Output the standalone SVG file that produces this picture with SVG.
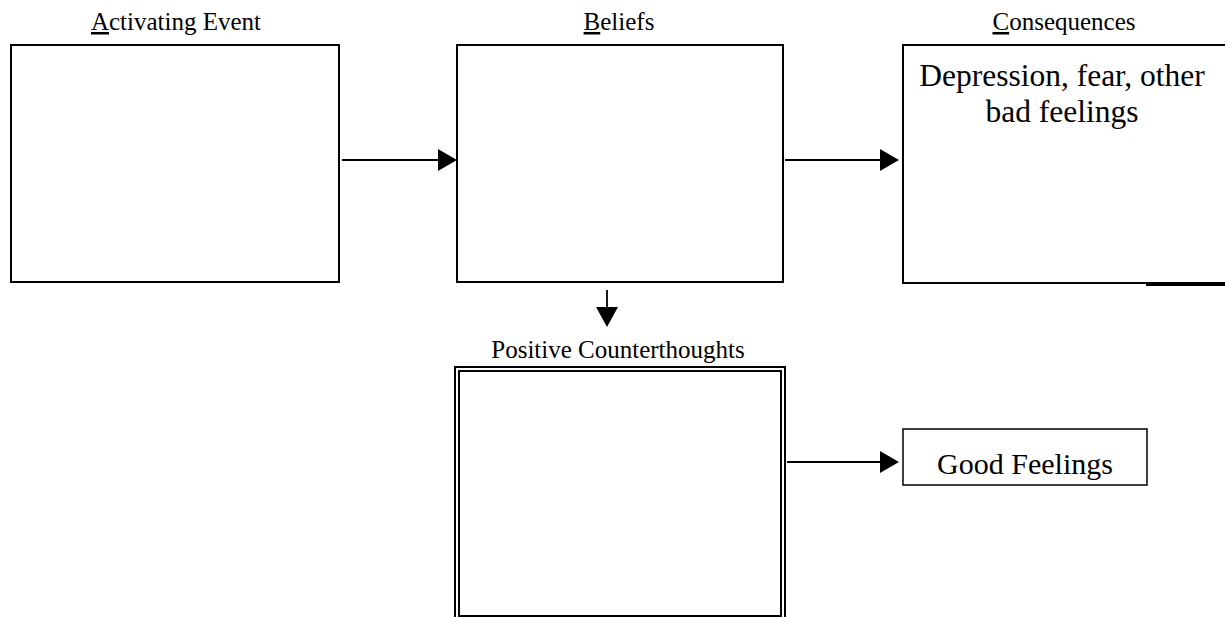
<svg xmlns="http://www.w3.org/2000/svg" width="1225" height="617" viewBox="0 0 1225 617">
  <style>
    .box { fill: #fff; stroke: #000; stroke-width: 2; }
    .thin { fill: #fff; stroke: #000; stroke-width: 1.5; }
    .lbl { font-family: "Liberation Serif", "Times New Roman", serif; font-size: 25px; fill: #000; text-anchor: middle; }
    .big { font-family: "Liberation Serif", "Times New Roman", serif; font-size: 31.5px; fill: #000; text-anchor: middle; }
    .mid { font-family: "Liberation Serif", "Times New Roman", serif; font-size: 30px; fill: #000; text-anchor: middle; }
    .conn { stroke: #000; stroke-width: 1.8; fill: none; }
    .head { fill: #000; }
  </style>
  <rect width="1225" height="617" fill="#fff"/>

  <!-- A: activating event -->
  <g id="node-activating">
    <text class="lbl" x="176" y="30"><tspan text-decoration="underline">A</tspan>ctivating Event</text>
    <rect class="box" x="11" y="45" width="328" height="237"/>
  </g>

  <!-- B: beliefs -->
  <g id="node-beliefs">
    <text class="lbl" x="619" y="30"><tspan text-decoration="underline">B</tspan>eliefs</text>
    <rect class="box" x="457" y="45" width="326" height="237"/>
  </g>

  <!-- C: consequences -->
  <g id="node-consequences">
    <text class="lbl" x="1064" y="30"><tspan text-decoration="underline">C</tspan>onsequences</text>
    <rect class="box" x="903" y="45" width="340" height="238"/>
    <rect x="1146" y="282" width="79" height="4" fill="#000"/>
    <text class="big" x="1062" y="86">Depression, fear, other</text>
    <text class="big" x="1062" y="122">bad feelings</text>
  </g>

  <!-- positive counterthoughts (double border) -->
  <g id="node-counterthoughts">
    <text class="lbl" x="618" y="358">Positive Counterthoughts</text>
    <rect class="box" x="455" y="367" width="330" height="270"/>
    <rect class="box" x="459" y="371" width="322" height="245"/>
  </g>

  <!-- good feelings -->
  <g id="node-good">
    <rect class="thin" x="903" y="429" width="244" height="56"/>
    <text class="mid" x="1025" y="474">Good Feelings</text>
  </g>

  <g id="connectors">
    <line class="conn" x1="342" y1="160" x2="440" y2="160"/>
    <polygon class="head" points="438,149 457,160 438,171"/>
    <line class="conn" x1="785" y1="160" x2="882" y2="160"/>
    <polygon class="head" points="880,149 899,160 880,171"/>
    <line class="conn" x1="607" y1="290" x2="607" y2="309"/>
    <polygon class="head" points="596,307 618,307 607,327"/>
    <line class="conn" x1="787" y1="462" x2="882" y2="462"/>
    <polygon class="head" points="880,451 899,462 880,473"/>
  </g>
</svg>
